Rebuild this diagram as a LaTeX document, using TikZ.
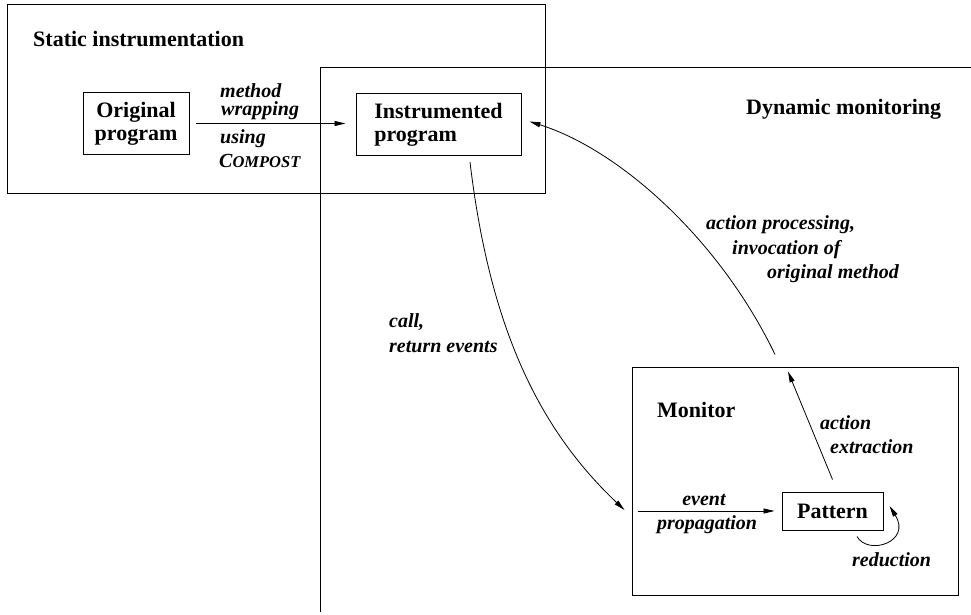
\documentclass[tikz,border=0pt]{standalone}
\usepackage{fontspec}
\setmainfont{Liberation Serif}
\usetikzlibrary{arrows.meta,calc}
\begin{document}
\begin{tikzpicture}[x=1pt,y=-1pt,
  hd/.style={font=\fontsize{22}{25}\selectfont\bfseries, inner sep=0pt, anchor=base west},
  lb/.style={font=\fontsize{20}{24}\selectfont\bfseries\itshape, inner sep=0pt, anchor=base west},
  frame/.style={draw, line width=1pt, inner sep=0pt},
  box/.style={draw, line width=1pt, inner sep=0pt, font=\fontsize{22}{23}\selectfont\bfseries},
  arr/.style={-{Triangle[length=11pt,width=5pt]}, line width=0.8pt},
]
\useasboundingbox (0,0) rectangle (971,615);
% regions
\node[frame, minimum width=538pt, minimum height=188pt] (static) at (276,99) {};
\draw[line width=1pt] (320,612) -- (320,68) -- (971,68);
\node[frame, minimum width=326pt, minimum height=228pt] (monbox) at (795,481) {};
% titles
\node[hd] (tstatic) at (33,47) {Static instrumentation};
\node[hd] (tdyn) at (746,114) {Dynamic monitoring};
\node[hd] (tmon) at (657,417) {Monitor};
% boxes
\node[box, align=center, minimum width=106pt, minimum height=61pt] (orig) at (136,123.5) {Original\\program};
\node[box, align=left, minimum width=165pt, minimum height=62pt] (instr) at (438.5,124.5) {Instrumented\\program};
\node[box, minimum width=101pt, minimum height=38pt] (pattern) at (832.5,511) {Pattern};
% arrows
\draw[arr, shorten <=6pt, shorten >=10pt] (orig.east) -- (instr.west |- orig.east);
\draw[arr] ($(instr.south)+(31.5,6)$) .. controls (490,330) and (540,430) .. ($(monbox.west)+(-7,29)$);
\draw[arr] ($(monbox.north)+(-20,-12)$) .. controls (720,240) and (620,150) .. ($(instr.east)+(8,-3)$);
\draw[arr] ($(pattern.north)+(0,-12)$) -- ($(monbox.north)+(-7,5)$);
\draw[arr, shorten >=7pt] ($(monbox.west |- pattern.west)+(6,0)$) -- (pattern.west);
\draw[arr] ($(pattern.south)+(24.5,6)$) .. controls (868,556) and (912,542) .. ($(pattern.east)+(6,-5)$);
% labels
\node[lb] (l1) at (220,98) {method};
\node[lb] (l2) at (221,116) {wrapping};
\node[lb] (l3) at (220,143) {using};
\node[lb] (l4) at (219,167) {C{\fontsize{16.5}{18}\selectfont OMPOST}};
\node[lb] (l5) at (389,327) {call,};
\node[lb] (l6) at (389,352) {return events};
\node[lb] (l7) at (706,229) {action processing,};
\node[lb] (l8) at (732,254) {invocation of};
\node[lb] (l9) at (767,278) {original method};
\node[lb] (l10) at (820,429) {action};
\node[lb] (l11) at (830,453) {extraction};
\node[lb, anchor=base] (l12) at (704,505) {event};
\node[lb, anchor=base] (l13) at (707,529) {propagation};
\node[lb] (l14) at (852,566) {reduction};
\end{tikzpicture}
\end{document}
